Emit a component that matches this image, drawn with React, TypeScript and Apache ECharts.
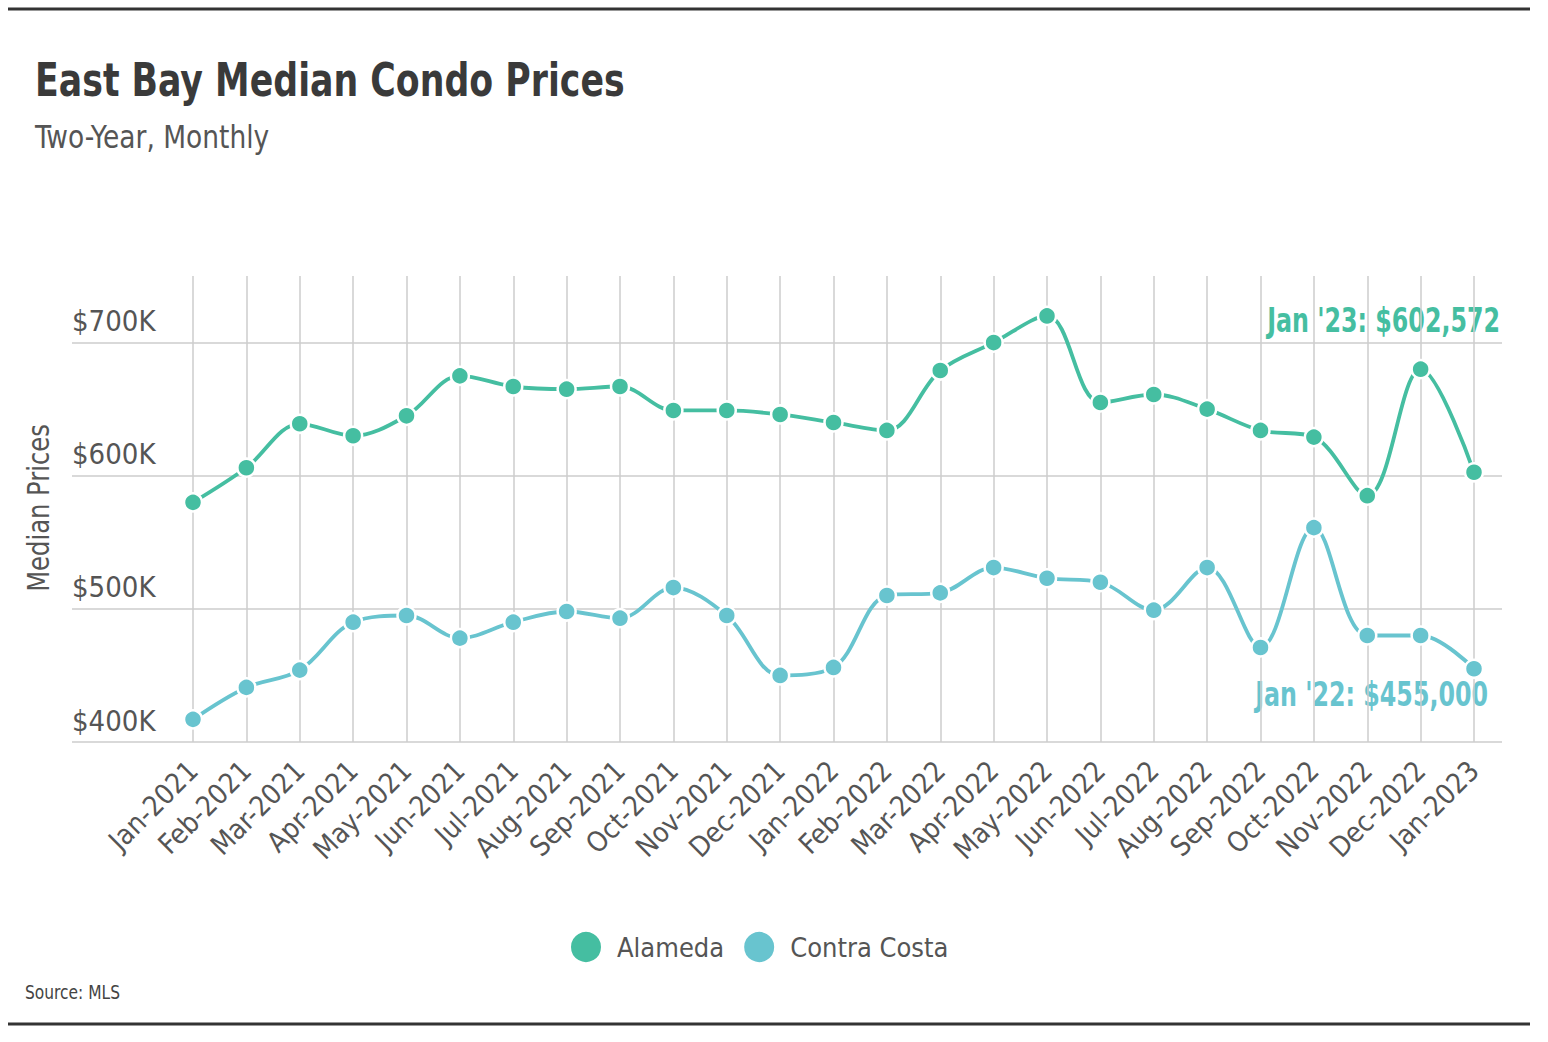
import React, { useEffect, useRef } from "react";
import * as echarts from "echarts";

const months = [
  "Jan-2021", "Feb-2021", "Mar-2021", "Apr-2021", "May-2021", "Jun-2021",
  "Jul-2021", "Aug-2021", "Sep-2021", "Oct-2021", "Nov-2021", "Dec-2021",
  "Jan-2022", "Feb-2022", "Mar-2022", "Apr-2022", "May-2022", "Jun-2022",
  "Jul-2022", "Aug-2022", "Sep-2022", "Oct-2022", "Nov-2022", "Dec-2022",
  "Jan-2023",
];

const alameda = [
  580000, 606000, 639000, 630000, 645000, 675000, 667000, 665000, 667000,
  649000, 649000, 646000, 640000, 634000, 679000, 700000, 720000, 655000,
  661000, 650000, 634000, 629000, 585000, 680000, 602572,
];

const contraCosta = [
  417000, 441000, 454000, 490000, 495000, 478000, 490000, 498000, 493000,
  516000, 495000, 450000, 456000, 510000, 512000, 531000, 523000, 520000,
  499000, 531000, 471000, 561000, 480000, 480000, 455000,
];

const seriesNames = ["Alameda", "Contra Costa"];
const yTicks = [400000, 500000, 600000, 700000];
const annotations = ["Jan '23: $602,572", "Jan '22: $455,000"];

const COLOR_A = "#45bea1";
const COLOR_C = "#68c4cf";
const FONT = '"DejaVu Sans Condensed", "Liberation Sans Narrow", "Roboto", sans-serif';
const GRID_COLOR = "#cccccc";

export default function App() {
  const ref = useRef<HTMLDivElement>(null);

  useEffect(() => {
    document.body.style.margin = "0";
    const chart = echarts.init(ref.current!, null, { renderer: "svg" });
    const yMin = yTicks[0];
    const yMax = 750000;
    const yInterval = yTicks[1] - yTicks[0];

    chart.setOption({
      animation: false,
      backgroundColor: "#ffffff",
      textStyle: { fontFamily: FONT },
      grid: [
        { left: 72, right: 46, top: 276, bottom: 300 },
        { left: 193, right: 74, top: 276, bottom: 300 },
      ],
      xAxis: [
        { type: "value", gridIndex: 0, min: 0, max: 1, show: false },
        {
          type: "category",
          gridIndex: 1,
          data: months,
          boundaryGap: false,
          axisLine: { show: false },
          axisTick: { show: false },
          splitLine: { show: true, lineStyle: { color: GRID_COLOR, width: 1.5 } },
          axisLabel: {
            rotate: 45,
            interval: 0,
            fontSize: 28,
            color: "#555555",
            fontFamily: FONT,
            margin: 24,
          },
        },
      ],
      yAxis: [
        {
          type: "value",
          gridIndex: 0,
          min: yMin,
          max: yMax,
          interval: yInterval,
          axisLine: { show: false },
          axisTick: { show: false },
          splitLine: {
            show: true,
            showMaxLine: false,
            lineStyle: { color: GRID_COLOR, width: 1.5 },
          },
          axisLabel: {
            inside: true,
            margin: 0,
            showMaxLabel: false,
            verticalAlign: "bottom",
            padding: [0, 0, 7, 0],
            fontSize: 29,
            color: "#555555",
            fontFamily: FONT,
            formatter: (v: number) => (v === yMax ? "" : "$" + Math.round(v / 1000) + "K"),
          },
        },
        {
          type: "value",
          gridIndex: 1,
          min: yMin,
          max: yMax,
          interval: yInterval,
          show: false,
          splitLine: { show: false },
        },
      ],
      legend: {
        data: seriesNames,
        left: 564,
        top: 925,
        icon: "circle",
        itemWidth: 32,
        itemHeight: 32,
        itemGap: 18,
        textStyle: { fontSize: 27, color: "#555555", fontFamily: FONT, padding: [0, 0, 0, 10] },
      },
      series: [
        {
          name: seriesNames[0],
          type: "line",
          xAxisIndex: 1,
          yAxisIndex: 1,
          data: alameda,
          smooth: 0.35,
          symbol: "circle",
          symbolSize: 18,
          color: COLOR_A,
          lineStyle: { width: 3.8, color: COLOR_A },
          itemStyle: { color: COLOR_A, borderColor: "#ffffff", borderWidth: 2.5 },
          z: 3,
        },
        {
          name: seriesNames[1],
          type: "line",
          xAxisIndex: 1,
          yAxisIndex: 1,
          data: contraCosta,
          smooth: 0.35,
          symbol: "circle",
          symbolSize: 18,
          color: COLOR_C,
          lineStyle: { width: 3.8, color: COLOR_C },
          itemStyle: { color: COLOR_C, borderColor: "#ffffff", borderWidth: 2.5 },
          z: 3,
        },
      ],
      graphic: [
        {
          type: "line",
          shape: { x1: 8, y1: 9, x2: 1530, y2: 9 },
          style: { stroke: "#333333", lineWidth: 3 },
        },
        {
          type: "line",
          shape: { x1: 8, y1: 1024, x2: 1530, y2: 1024 },
          style: { stroke: "#333333", lineWidth: 3 },
        },
        {
          type: "text",
          x: 35,
          y: 80,
          scaleX: 0.84,
          style: {
            text: "East Bay Median Condo Prices",
            fontSize: 46,
            fontWeight: "bold",
            fill: "#3a3a3a",
            fontFamily: FONT,
            textVerticalAlign: "middle",
          },
        },
        {
          type: "text",
          x: 35,
          y: 137,
          scaleX: 0.92,
          style: {
            text: "Two-Year, Monthly",
            fontSize: 32,
            fill: "#555555",
            fontFamily: FONT,
            textVerticalAlign: "middle",
          },
        },
        {
          type: "text",
          x: 38,
          y: 508,
          rotation: Math.PI / 2,
          scaleX: 0.87,
          style: {
            text: "Median Prices",
            fontSize: 31,
            fill: "#555555",
            fontFamily: FONT,
            textAlign: "center",
            textVerticalAlign: "middle",
          },
        },
        {
          type: "text",
          x: 1500,
          y: 320,
          scaleX: 0.8,
          style: {
            text: annotations[0],
            fontSize: 33,
            fontWeight: "bold",
            fill: COLOR_A,
            fontFamily: FONT,
            textAlign: "right",
            textVerticalAlign: "middle",
          },
        },
        {
          type: "text",
          x: 1488,
          y: 694,
          scaleX: 0.8,
          style: {
            text: annotations[1],
            fontSize: 33,
            fontWeight: "bold",
            fill: COLOR_C,
            fontFamily: FONT,
            textAlign: "right",
            textVerticalAlign: "middle",
          },
        },
        {
          type: "text",
          x: 25,
          y: 992,
          scaleX: 0.86,
          style: {
            text: "Source: MLS",
            fontSize: 20,
            fill: "#444444",
            fontFamily: FONT,
            textVerticalAlign: "middle",
          },
        },
      ],
    });

    return () => chart.dispose();
  }, []);

  return <div ref={ref} style={{ width: 1548, height: 1042 }} />;
}
